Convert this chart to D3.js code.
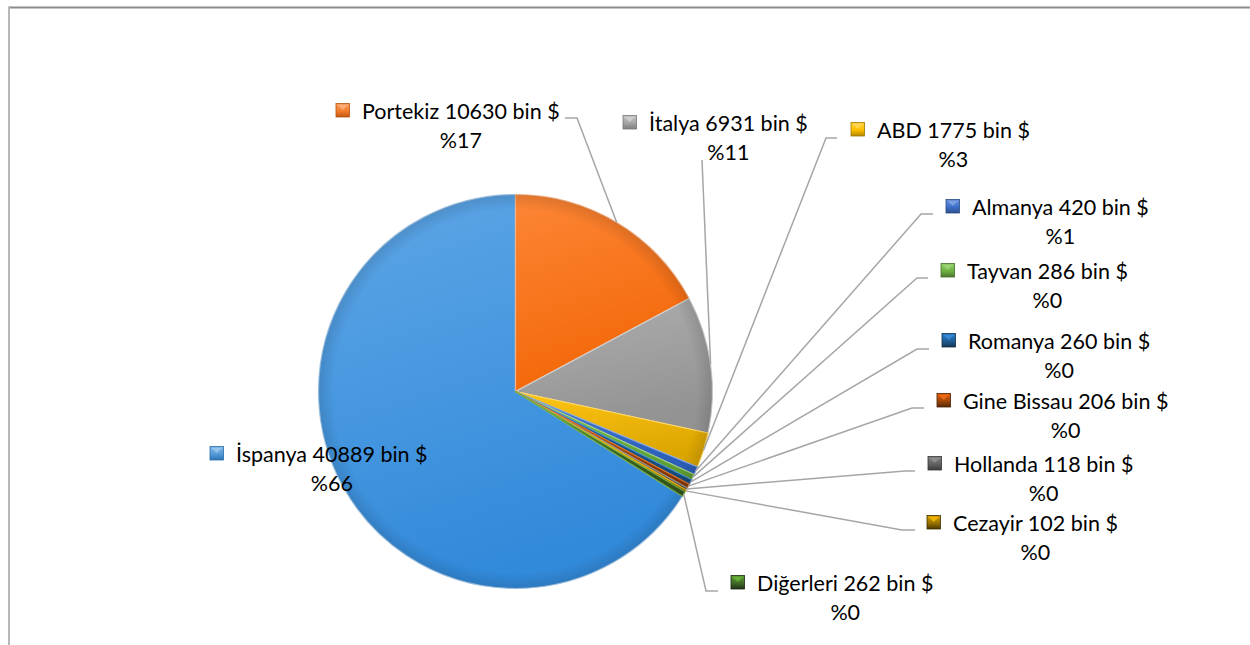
<!DOCTYPE html>
<html><head><meta charset="utf-8">
<script src="https://cdn.jsdelivr.net/npm/d3@7"></script>
<style>html,body{margin:0;padding:0;background:#fff;} svg{display:block;}</style>
</head><body>
<svg id="chart" width="1250" height="645"></svg>
<script>
// ---- data ----
const categories = ["İspanya","Portekiz","İtalya","ABD","Almanya","Tayvan","Romanya","Gine Bissau","Hollanda","Cezayir","Diğerleri"];
const values = [40889,10630,6931,1775,420,286,260,206,118,102,262];
const unitLabel = "bin $";
const colors = ["#5B9BD5","#ED7D31","#A5A5A5","#FFC000","#4472C4","#70AD47","#255E91","#9E480E","#636363","#997300","#43682B"];

// ---- layout (positions kept apart from data) ----
const W = 1250, H = 645;
const cx = 515.5, cy = 391.5, R = 197;
const labelLayout = [
  {x:236, y:462, leader:null},
  {x:362, y:119, leader:[[565,118],[577,118]]},
  {x:649, y:131, leader:[[702,160]]},
  {x:877, y:138, leader:[[837,138],[826,138]]},
  {x:972, y:215, leader:[[933,214],[921,214]]},
  {x:967, y:279, leader:[[928,278],[917,278]]},
  {x:968, y:349, leader:[[929,349],[917,349]]},
  {x:963, y:409, leader:[[924,408],[912,408]]},
  {x:954, y:472, leader:[[915,471],[905,471]]},
  {x:953, y:531, leader:[[915,530],[902,530]]},
  {x:757, y:591, leader:[[718,591],[706,591]]}
];
const fontFamily = "Lato, 'Open Sans', sans-serif";
const fontSize = 21.5;
const lineGap = 29;

const svg = d3.select("#chart");
const defs = svg.append("defs");

// frame
svg.append("line").attr("x1",8).attr("y1",7.5).attr("x2",W).attr("y2",7.5)
  .attr("stroke","#8c8c8c").attr("stroke-width",2);
svg.append("line").attr("x1",9).attr("y1",7).attr("x2",9).attr("y2",H)
  .attr("stroke","#b8b8b8").attr("stroke-width",2);

const total = d3.sum(values);
const a0 = 2*Math.PI - 2*Math.PI*values[0]/total; // first slice angle so 2nd slice starts at 12 o'clock
const pie = d3.pie().sort(null).value(d=>d).startAngle(a0).endAngle(a0 + 2*Math.PI);
const arcs = pie(values);
const arc = d3.arc().innerRadius(0).outerRadius(R);

function tone(c, ds, dl){
  const h = d3.hsl(c);
  h.s = Math.min(1, h.s + ds); h.l = Math.max(0, Math.min(1, h.l + dl));
  return h.formatHex();
}

colors.forEach((c,i)=>{
  const g = defs.append("linearGradient").attr("id","g"+i)
    .attr("x1",0).attr("y1",0).attr("x2",0.3).attr("y2",1);
  g.append("stop").attr("offset","0%").attr("stop-color",tone(c,0.14,0.04));
  g.append("stop").attr("offset","100%").attr("stop-color",tone(c,0.1,-0.07));
  const k = defs.append("linearGradient").attr("id","k"+i)
    .attr("x1",0).attr("y1",0).attr("x2",0).attr("y2",1);
  k.append("stop").attr("offset","0%").attr("stop-color",tone(c,0.1,0.12));
  k.append("stop").attr("offset","55%").attr("stop-color",tone(c,0.05,0));
  k.append("stop").attr("offset","100%").attr("stop-color",tone(c,0,-0.15));
});

// rim shadow
const sh = defs.append("radialGradient").attr("id","rim")
  .attr("cx",cx).attr("cy",cy).attr("r",R).attr("gradientUnits","userSpaceOnUse");
sh.append("stop").attr("offset","92%").attr("stop-color","#000").attr("stop-opacity",0);
sh.append("stop").attr("offset","100%").attr("stop-color","#000").attr("stop-opacity",0.12);

const gPie = svg.append("g").attr("transform",`translate(${cx},${cy})`);
gPie.selectAll("path.slice").data(arcs).join("path")
  .attr("class","slice")
  .attr("d",arc)
  .attr("fill",(d,i)=>`url(#g${i})`)
  .attr("stroke",(d,i)=>tone(colors[i],0,0.18))
  .attr("stroke-width",1.2)
  .attr("stroke-linejoin","round");
gPie.append("circle").attr("r",R).attr("fill","url(#rim)").attr("transform",`translate(${-cx},${-cy})`)
  .attr("cx",cx).attr("cy",cy).attr("pointer-events","none");

// leader lines
const gLead = svg.append("g");
arcs.forEach((d,i)=>{
  const L = labelLayout[i];
  if(!L.leader) return;
  const m = (d.startAngle + d.endAngle)/2;
  const rim = [cx + R*Math.sin(m), cy - R*Math.cos(m)];
  const pts = L.leader.concat([rim]);
  gLead.append("path").attr("d", d3.line()(pts))
    .attr("fill","none").attr("stroke","#a6a6a6").attr("stroke-width",1.5);
});

// labels
const gLab = svg.append("g").attr("font-family",fontFamily).attr("font-size",fontSize).attr("fill","#000");
arcs.forEach((d,i)=>{
  const L = labelLayout[i];
  const t1 = gLab.append("text").attr("x",L.x).attr("y",L.y)
    .text(`${categories[i]} ${values[i]} ${unitLabel}`);
  const w = t1.node().getComputedTextLength();
  gLab.append("text").attr("x",L.x + w/2).attr("y",L.y + lineGap)
    .attr("text-anchor","middle")
    .text("%" + Math.round(values[i]/total*100));
  gLab.append("rect").attr("x",L.x-26).attr("y",L.y-15.5).attr("width",13.5).attr("height",13.5)
    .attr("fill",`url(#k${i})`).attr("stroke",tone(colors[i],0,-0.18)).attr("stroke-width",0.8);
  gLab.append("path")
    .attr("d",`M${L.x-24.5},${L.y-14} L${L.x-19.25},${L.y-9} L${L.x-14},${L.y-14} Z`)
    .attr("fill",tone(colors[i],0.1,0.2)).attr("opacity",0.7);
});
</script>
</body></html>
